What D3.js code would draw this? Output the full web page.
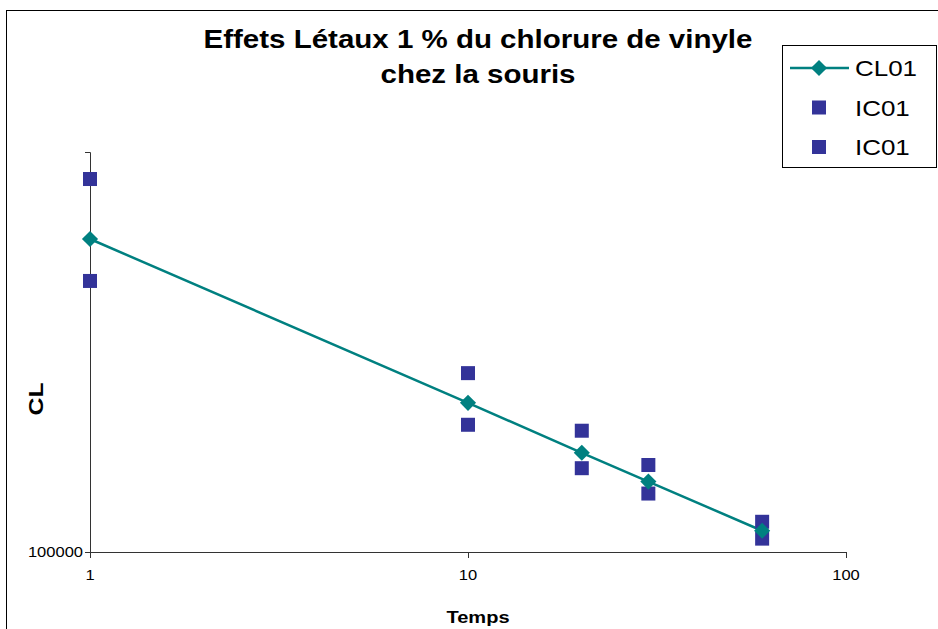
<!DOCTYPE html>
<html>
<head>
<meta charset="utf-8">
<script src="https://cdn.jsdelivr.net/npm/d3@7"></script>
<style>
  body { margin: 0; background: #fff; }
  text { font-family: "Liberation Sans", Arial, sans-serif; }
</style>
</head>
<body>
<div id="chart"></div>
<script>
// data
const temps = [1, 10, 20, 30, 60];
const cl01 = [606000, 236000, 177000, 150000, 113000];
const ic01High = [856000, 280000, 201000, 165000, 119000];
const ic01Low = [476000, 208000, 162000, 140000, 108000];
const xTicks = [1, 10, 100];
const yTicks = [100000];
const legendLabels = ["CL01", "IC01", "IC01"];

const W = 938, H = 629;
const margin = {top: 152, left: 90, right: 92, bottom: 77};
const width = W - margin.left - margin.right,
      height = H - margin.top - margin.bottom;
// the original text is a bit wider than Liberation Sans
const stretch = 1.18;

const svg = d3.select("#chart")
  .append("svg")
    .attr("width", W)
    .attr("height", H);

// outer frame of the chart area
svg.append("rect")
  .attr("x", 6.5).attr("y", 10.5)
  .attr("width", W).attr("height", H)
  .attr("fill", "none")
  .attr("stroke", "#000")
  .attr("stroke-width", 1);

// text helper, places a horizontally stretched label
function label(parent, tx, ty, txt, size, anchor, bold, rot) {
  const t = parent.append("text")
    .attr("transform", `translate(${tx},${ty})` + (rot ? ` rotate(${rot})` : "") + ` scale(${stretch},1)`)
    .attr("text-anchor", anchor)
    .attr("font-size", size)
    .attr("fill", "#000")
    .text(txt);
  if (bold) t.attr("font-weight", "bold");
  return t;
}

const g = svg.append("g")
  .attr("transform", `translate(${margin.left},${margin.top})`);

const x = d3.scaleLog().domain([1, 100]).range([0, width]);
const y = d3.scaleLog().domain([100000, 1000000]).range([height, 0]);

// X axis
const xAxis = g.append("g")
  .attr("transform", `translate(0,${height})`)
  .call(d3.axisBottom(x).tickValues(xTicks).tickFormat("").tickSizeOuter(0).tickSize(6));
xAxis.select(".domain").attr("stroke", "#333");
xAxis.selectAll(".tick line").attr("stroke", "#333");
xTicks.forEach(t => label(g, x(t), height + 28, d3.format("d")(t), 14, "middle", false));

// Y axis
const yAxis = g.append("g")
  .call(d3.axisLeft(y).tickValues(yTicks).tickFormat("").tickSizeOuter(0).tickSize(5));
yAxis.select(".domain").attr("stroke", "#333");
yAxis.selectAll(".tick line").attr("stroke", "#333").attr("x2", 5).attr("x1", -5);
yTicks.forEach(t => label(g, -7, y(t) + 5, d3.format("d")(t), 14, "end", false));

// line CL01
const pts = temps.map((t, i) => ({t: t, v: cl01[i]}));
g.append("path")
  .datum(pts)
  .attr("fill", "none")
  .attr("stroke", "#008080")
  .attr("stroke-width", 2.5)
  .attr("d", d3.line().x(d => x(d.t)).y(d => y(d.v)));

// IC01 squares
const sq = 14;
[ic01High, ic01Low].forEach(arr => {
  g.selectAll(null)
    .data(temps.map((t, i) => ({t: t, v: arr[i]})))
    .enter().append("rect")
      .attr("x", d => x(d.t) - sq / 2)
      .attr("y", d => y(d.v) - sq / 2)
      .attr("width", sq).attr("height", sq)
      .attr("fill", "#333399");
});

// CL01 diamonds
const diamond = d3.symbol().type(d3.symbolSquare).size(130);
g.selectAll(".dia")
  .data(pts)
  .enter().append("path")
    .attr("class", "dia")
    .attr("d", diamond)
    .attr("transform", d => `translate(${x(d.t)},${y(d.v)}) rotate(45)`)
    .attr("fill", "#008080");

// Title
label(svg, 478, 48, "Effets Létaux 1 % du chlorure de vinyle", 25, "middle", true);
label(svg, 478, 83, "chez la souris", 25, "middle", true);

// axis titles
label(svg, 478, 623, "Temps", 17, "middle", true);
label(svg, 43, 399, "CL", 21, "middle", true, -90);

// Legend
const lg = svg.append("g").attr("transform", "translate(782,45)");
lg.append("rect")
  .attr("x", 0.5).attr("y", 0.5)
  .attr("width", 154).attr("height", 122)
  .attr("fill", "#fff").attr("stroke", "#000");
legendLabels.forEach((lab, i) => {
  const cy = 23 + i * 39.5;
  if (i === 0) {
    lg.append("line")
      .attr("x1", 8).attr("x2", 67).attr("y1", cy).attr("y2", cy)
      .attr("stroke", "#008080").attr("stroke-width", 2.5);
    lg.append("path")
      .attr("d", diamond)
      .attr("transform", `translate(37,${cy}) rotate(45)`)
      .attr("fill", "#008080");
  } else {
    lg.append("rect")
      .attr("x", 30).attr("y", cy - 7)
      .attr("width", 14).attr("height", 14)
      .attr("fill", "#333399");
  }
  label(lg, 73, cy + 8, lab, 22, "start", false);
});
</script>
</body>
</html>
